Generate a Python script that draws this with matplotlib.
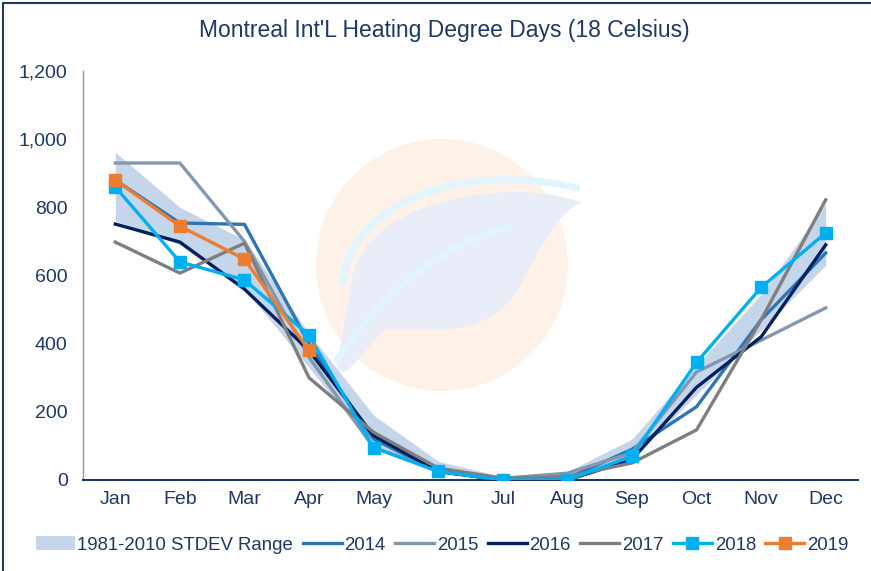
import matplotlib
matplotlib.use("Agg")
import matplotlib.pyplot as plt
from matplotlib.patches import Ellipse, PathPatch, Rectangle
from matplotlib.path import Path
from matplotlib.ticker import FuncFormatter

plt.rcParams['font.family'] = ['Liberation Sans', 'DejaVu Sans']

months = ["Jan", "Feb", "Mar", "Apr", "May", "Jun", "Jul", "Aug", "Sep", "Oct", "Nov", "Dec"]
band_low = [760, 690, 560, 330, 95, 20, 0, 5, 60, 250, 440, 630]
band_high = [962, 800, 705, 430, 190, 55, 10, 25, 120, 335, 545, 810]
y2014 = [880, 754, 750, 400, 120, 25, 0, 5, 90, 215, 470, 666]
y2015 = [930, 930, 700, 360, 95, 30, 5, 20, 80, 317, 410, 505]
y2016 = [751, 698, 560, 380, 130, 25, 0, 0, 60, 272, 420, 690]
y2017 = [698, 607, 695, 300, 140, 35, 5, 10, 50, 147, 470, 822]
y2018 = [860, 640, 587, 425, 95, 25, 0, 0, 70, 345, 565, 725]
y2019 = [880, 745, 648, 380]

navy = "#1F3864"

fig = plt.figure(figsize=(8.71, 5.71), dpi=100)
W, H = 871, 571

def fx(x):
    return x / W

def fy(y):
    return 1 - y / H

def pp(points):
    return [(fx(x), fy(y)) for x, y in points]

# Background logo (figure coordinates)
circ = Ellipse((fx(442), fy(265)), 2 * 126 / W, 2 * 126 / H, transform=fig.transFigure,
               facecolor="#FDF1E8", edgecolor="none", zorder=0)
fig.patches.append(circ)

M, C, L = Path.MOVETO, Path.CURVE4, Path.LINETO
leaf_pts = [(350, 295),
            (352, 230), (420, 195), (513, 192),
            (545, 192), (565, 197), (582, 202),
            (555, 215), (540, 250), (520, 285),
            (500, 320), (470, 330), (430, 330),
            (383, 330),
            (370, 345), (355, 365), (345, 372),
            (338, 372), (335, 365), (338, 358),
            (350, 295)]
leaf_codes = [M, C, C, C, C, C, C, C, C, C, C, C, C, L, C, C, C, C, C, C, L]
leaf = PathPatch(Path(pp(leaf_pts), leaf_codes), transform=fig.transFigure,
                 facecolor="#E8EDF7", edgecolor="none", zorder=0)
fig.patches.append(leaf)
# cyan swooshes
sw1 = PathPatch(Path(pp([(343, 282), (350, 205), (460, 160), (577, 188)]), [M, C, C, C]),
                transform=fig.transFigure, facecolor="none", edgecolor="#E2F5FC",
                linewidth=5, capstyle="round", zorder=0)
fig.patches.append(sw1)
sw2 = PathPatch(Path(pp([(337, 360), (380, 295), (440, 245), (508, 227)]), [M, C, C, C]),
                transform=fig.transFigure, facecolor="none", edgecolor="#E2F5FC",
                linewidth=5, capstyle="round", zorder=0)
fig.patches.append(sw2)

# outer frame
frame = Rectangle((fx(3), -0.2), 1.5, fy(3) + 0.2, transform=fig.transFigure,
                  facecolor="none", edgecolor=navy, linewidth=1.5, zorder=5)
fig.patches.append(frame)

ax = fig.add_axes([fx(83), fy(480), fx(858) - fx(83), fy(71) - fy(480)])
ax.patch.set_alpha(0)

x = list(range(12))
ax.fill_between(x, band_low, band_high, color="#C5D5EA", linewidth=0, zorder=1,
                label="1981-2010 STDEV Range")
lw = 2.4
ax.plot(x, y2014, color="#2E75B6", lw=lw, zorder=3, label="2014")
ax.plot(x, y2015, color="#8497B0", lw=lw, zorder=3, label="2015")
ax.plot(x, y2016, color="#002060", lw=lw, zorder=3, label="2016")
ax.plot(x, y2017, color="#7F7F7F", lw=lw, zorder=3, label="2017")
ax.plot(x, y2018, color="#00B0F0", lw=lw, marker="s", ms=8, zorder=4, label="2018")
ax.plot(x[:len(y2019)], y2019, color="#ED7D31", lw=lw, marker="s", ms=8, zorder=5, label="2019")

ax.set_xlim(-0.5, 11.5)
ax.set_ylim(0, 1200)
ax.set_xticks(x)
ax.set_xticklabels(months)
ax.set_yticks(range(0, 1201, 200))
ax.yaxis.set_major_formatter(FuncFormatter(lambda v, p: f"{int(v):,}"))
ax.tick_params(axis="both", length=0, labelsize=14, colors=navy)
ax.tick_params(axis="x", pad=8)
ax.tick_params(axis="y", pad=11)
for s in ["top", "right"]:
    ax.spines[s].set_visible(False)
ax.spines["left"].set_color("#8497B0")
ax.spines["left"].set_linewidth(1.0)
ax.spines["bottom"].set_color(navy)
ax.spines["bottom"].set_linewidth(1.5)

fig.text(fx(444), fy(31), "Montreal Int'L Heating Degree Days (18 Celsius)",
         ha="center", va="center", fontsize=16.5, color=navy)

handles, labels = ax.get_legend_handles_labels()
leg = fig.legend(handles, labels, loc="center", bbox_to_anchor=(fx(442), fy(545)),
                 ncol=7, frameon=False, fontsize=13.4, handlelength=2.1,
                 handletextpad=0.15, columnspacing=0.5, labelcolor=navy,
                 borderpad=0, borderaxespad=0)

fig.savefig("out.png", dpi=100)
